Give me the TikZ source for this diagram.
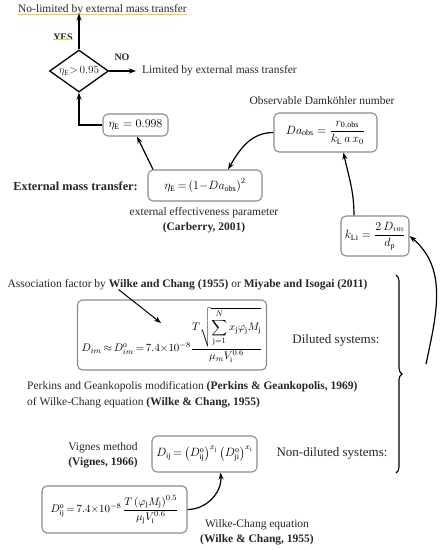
\documentclass[tikz,border=0pt]{standalone}
\usepackage{amsmath}
\usepackage{fontspec}
\setmainfont{Liberation Serif}
\usetikzlibrary{shapes.geometric,arrows.meta,decorations.pathreplacing}
\newcommand{\rmsub}[1]{\mathrm{#1}}
\begin{document}
\begin{tikzpicture}[x=1pt,y=-1pt,
  txt/.style={inner sep=0pt,font=\fontsize{11.5}{13.5}\selectfont,text=black!85},
  eqbox/.style={draw=black!45,line width=1.1pt,rounded corners=5pt,inner sep=1pt,font=\fontsize{12}{14}\selectfont},
  decision/.style={draw=black,line width=1.3pt,diamond,inner sep=0pt,minimum width=59pt,minimum height=42pt},
  arr/.style={-{Stealth[length=7pt,width=5pt]},line width=1.2pt,black},
  uline/.style={draw=orange!55!yellow!80!white,line width=0.5pt}]
\useasboundingbox (0,0) rectangle (447,550);

% top decision
\node[txt] (nolim) at (102.5,10) {No-limited by external mass transfer};
\node[decision] (dia) at (79,71) {};
\node[txt,font=\fontsize{10.5}{12}\selectfont] (diatxt) at (79,71) {$\eta_{\rmsub{E}}{>}\,0.95$};
\node[txt,font=\bfseries\fontsize{10}{11}\selectfont] (yes) at (63,37) {YES};
\node[txt,font=\bfseries\fontsize{10}{11}\selectfont] (no) at (122,57) {NO};
\node[txt,anchor=west] (lim) at (142,71) {Limited by external mass transfer};
\draw[uline] ([yshift=1.5]nolim.south west) -- ([yshift=1.5]nolim.south east);
\draw[uline] ([yshift=1.5]yes.south west) -- ([yshift=1.5]yes.south east);
\draw[arr] (dia.north) -- ([yshift=2]nolim.south -| dia.north);
\draw[arr] (dia.east) -- ([xshift=-6]lim.west);

% eta boxes
\node[eqbox,minimum width=65pt,minimum height=22pt] (e998) at (135.5,125) {$\eta_{\rmsub{E}}=0.998$};
\draw[arr] (e998.west) -| (dia.south);
\node[eqbox,minimum width=114pt,minimum height=31pt] (etaE) at (205,185.5) {$\eta_{\rmsub{E}}\,{=}\left(1{-}Da_{\rmsub{obs}}\right)^{2}$};
\node[txt,font=\bfseries\fontsize{12.3}{14}\selectfont,anchor=east] (emt) at (138,186) {External mass transfer:};
\node[txt,align=center] (effp) at (204,220.5) {external effectiveness parameter\\[1.5pt]\textbf{(Carberry, 2001)}};
\draw[arr] ([xshift=-52]etaE.north) -- ([xshift=1.5]e998.south);

% Damkohler
\node[eqbox,minimum width=103pt,minimum height=39pt] (Da) at (325.5,132.5) {$Da_{\rmsub{obs}}=\dfrac{r_{\rmsub{0,obs}}}{k_{\rmsub{L}}\,a\,x_{0}}$};
\node[txt] (dalbl) at (322,101) {Observable Damköhler number};
\draw[arr] (Da.west) to[out=180,in=60] ([xshift=23]etaE.north);

% k_Li
\node[eqbox,minimum width=68pt,minimum height=40pt] (k) at (375,236) {$k_{\rmsub{Li}}=\dfrac{2\,D_{im}}{d_{\rmsub{p}}}$};
\draw[arr] ([xshift=-21]k.north) to[out=90,in=-78] ([xshift=18]Da.south);

% brace and big arrow
\coordinate (bt) at (396,275);
\coordinate (bb) at (396,473);
\draw[line width=1.1pt,decorate,decoration={brace,amplitude=6pt}] (bt) -- (bb);
\coordinate (bstart) at (426,364);
\draw[arr] (bstart) to[out=78,in=-40] (k.east);

% diluted
\node[txt] (assoc) at (187.5,285) {Association factor by \textbf{Wilke and Chang (1955)} or \textbf{Miyabe and Isogai (2011)}};
\node[eqbox,minimum width=189pt,minimum height=70pt,font=\fontsize{11}{13}\selectfont] (Dim) at (172,335)
 {$D_{im}\,{\approx}\,D^{\rmsub{o}}_{im}\,{=}\,7.4{\times}10^{-8}\dfrac{T\sqrt{\displaystyle\sum_{\rmsub{j}=1}^{N}x_{\rmsub{j}}\varphi_{\rmsub{j}}M_{\rmsub{j}}}}{\mu_{m}V_{\rmsub{i}}^{0.6}}$};
\coordinate (phi) at (161,323);
\draw[arr,line width=1pt] ([xshift=-69,yshift=1]assoc.south) -- (phi);
\node[txt,font=\fontsize{13}{15}\selectfont] (dil) at (336,340) {Diluted systems:};
\node[txt,anchor=west] (perk1) at (27,387) {Perkins and Geankopolis modification \textbf{(Perkins \& Geankopolis, 1969)}};
\node[txt,anchor=west] (perk2) at (27,403) {of Wilke-Chang equation \textbf{(Wilke \& Chang, 1955)}};

% non-diluted
\node[eqbox,minimum width=105pt,minimum height=36pt] (vig) at (204.5,454) {$D_{\rmsub{ij}}\,{=}\left(D^{\rmsub{o}}_{\rmsub{ij}}\right)^{x_{\rmsub{j}}}\left(D^{\rmsub{o}}_{\rmsub{ji}}\right)^{x_{\rmsub{i}}}$};
\node[txt,align=center] (viglbl) at (103,455) {Vignes method\\[1.5pt]\textbf{(Vignes, 1966)}};
\node[txt,font=\fontsize{13}{15}\selectfont] (ndil) at (332,453) {Non-diluted systems:};
\node[eqbox,minimum width=145pt,minimum height=47pt,font=\fontsize{11}{13}\selectfont] (d0) at (114.5,509.5)
 {$D^{\rmsub{o}}_{\rmsub{ij}}\,{=}\,7.4{\times}10^{-8}\,\dfrac{T\left(\varphi_{\rmsub{j}}M_{\rmsub{j}}\right)^{0.5}}{\mu_{\rmsub{j}}V_{\rmsub{i}}^{0.6}}$};
\draw[arr] (d0.east) to[out=0,in=-85] ([xshift=16]vig.south);
\node[txt,align=center] (wc) at (257,532) {Wilke-Chang equation\\[1.5pt]\textbf{(Wilke \& Chang, 1955)}};
\end{tikzpicture}
\end{document}
